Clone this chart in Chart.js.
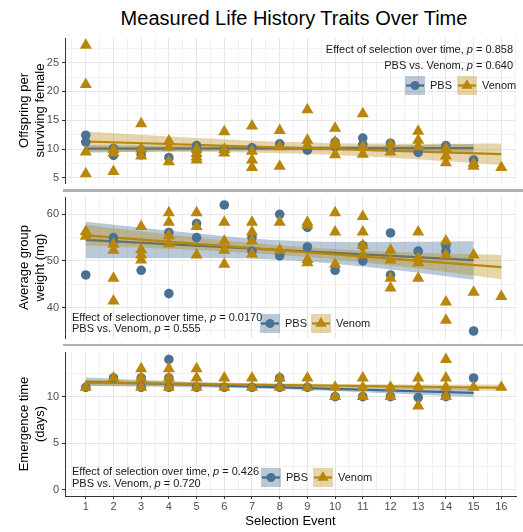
<!DOCTYPE html>
<html>
<head>
<meta charset="utf-8">
<script src="https://cdn.jsdelivr.net/npm/chart.js@4.4.1/dist/chart.umd.min.js"></script>
<style>
  html, body { margin: 0; padding: 0; background: #fff; overflow: hidden; }
  #wrap { position: relative; width: 523px; height: 532px; font-family: 'Liberation Sans', Arial, sans-serif; }
  canvas { position: absolute; left: 0; }
  .sep { position: absolute; left: 63px; width: 460px; height: 2.4px; background: #b0b0b0; z-index: 2; }
  #title { position: absolute; top: 7px; left: 65px; width: 458px; text-align: center; font-size: 20px; line-height: 22px; color: #000; }
</style>
</head>
<body>
<div id="wrap">
  <div id="title">Measured Life History Traits Over Time</div>
  <canvas id="offspring" width="523" height="190" style="top:0px"></canvas>
  <canvas id="weight" width="523" height="155" style="top:190px"></canvas>
  <canvas id="emergence" width="523" height="187" style="top:345px"></canvas>
  <div class="sep" style="top:189.4px"></div>
  <div class="sep" style="top:343.5px"></div>
</div>
<script>
// Measured life history traits, PBS vs Venom selection lines

// x axis: selection events
const events = [1, 2, 3, 4, 5, 6, 7, 8, 9, 10, 11, 12, 13, 14, 15, 16];

// Offspring per surviving female  [event, value]
const offspringPBS = [[1,12.4],[1,11.2],[2,10.1],[2,8.9],[3,9.8],[3,9.0],[4,8.5],[5,10.6],[5,9.6],[6,9.8],[7,10.2],[8,10.9],[9,9.8],[10,11.2],[10,10.4],[11,11.9],[11,10.8],[12,11.0],[12,10.0],[13,9.4],[14,10.6],[15,8.1]];
const offspringVenom = [[1,28],[1,21.2],[1,9.5],[1,5.7],[2,9.9],[2,9.3],[2,6.1],[3,14.4],[3,10.0],[3,8.8],[4,11.4],[4,10.3],[4,7.8],[5,10.0],[5,9.2],[5,8.6],[5,8.1],[6,13.0],[6,9.9],[6,9.3],[7,14.0],[7,9.6],[7,8.1],[7,6.8],[8,13.2],[8,10.4],[8,7.0],[9,16.8],[9,11.5],[9,10.6],[10,13.6],[10,11.2],[10,10.6],[10,9.0],[11,16.1],[11,10.4],[11,9.1],[12,10.8],[12,9.5],[13,13.1],[13,11.5],[13,10.4],[14,10.1],[14,8.8],[14,7.6],[15,7.5],[15,7.0],[16,6.8]];
// fitted lines [event, value] and bands [event, low, high]
const offspringPbsFit = [[1,10.05],[15,10.15]];
const offspringPbsBand = [[1,9.4,10.7],[4.5,9.63,10.53],[8,9.75,10.45],[11.5,9.67,10.57],[15,9.5,10.85]];
const offspringVenomFit = [[1,11.3],[16,9.1]];
const offspringVenomBand = [[1,9.55,13.05],[4.75,9.5,12.0],[8.5,9.2,11.2],[12.25,8.4,10.9],[16,7.25,10.95]];

// Average group weight (mg)
const weightPBS = [[1,47.0],[2,55.0],[2,54.2],[3,48.0],[4,56.1],[4,43.0],[5,58.0],[5,55.0],[6,62.0],[7,55.0],[7,52.1],[8,60.0],[8,51.1],[9,57.2],[9,53.0],[10,48.0],[11,53.3],[11,50.0],[12,56.0],[12,47.0],[13,52.1],[14,53.3],[14,52.1],[15,35.0]];
const weightVenom = [[1,56.3],[1,55.3],[2,53.6],[2,52.3],[2,46.3],[2,41.4],[3,57.4],[3,52.4],[3,51.3],[3,50.2],[4,60.3],[4,58.3],[4,55.4],[4,53.7],[5,60.3],[5,57.4],[5,51.3],[6,58.3],[6,54.3],[6,52.3],[6,49.3],[7,58.3],[7,56.2],[7,54.3],[7,51.5],[8,58.3],[8,52.3],[9,58.3],[9,57.7],[9,50.3],[9,49.6],[10,60.3],[10,56.2],[10,49.3],[11,59.5],[11,56.2],[11,53.3],[11,51.3],[12,52.3],[12,50.2],[12,46.3],[12,44.2],[13,56.2],[13,50.6],[13,49.6],[13,46.3],[14,54.3],[14,51.3],[14,41.2],[14,37.3],[15,51.3],[15,43.3],[16,42.4]];
const weightPbsFit = [[1,54.5],[15,50.2]];
const weightPbsBand = [[1,50.6,58.4],[4.5,50.63,56.23],[8,50.25,54.45],[11.5,48.48,54.08],[15,46.0,54.2]];
const weightVenomFit = [[1,55.5],[16,48.7]];
const weightVenomBand = [[1,53.3,57.7],[4.75,52.4,55.2],[8.5,51.05,53.15],[12.25,48.9,51.9],[16,46.1,51.3]];

// Emergence time (days)
const emergencePBS = [[1,11],[2,12],[3,12],[3,11],[4,14],[4,12],[4,11],[5,11],[6,11],[7,11],[8,12],[8,11],[9,11],[10,10],[11,10],[12,10],[13,9.9],[14,10],[15,12]];
const emergenceVenom = [[1,11],[2,12],[3,13],[3,12],[3,11],[4,13],[4,12],[4,11],[5,13],[5,12],[5,11],[6,12],[6,11],[7,12],[7,11],[8,12],[8,11],[9,12],[9,11],[10,11],[10,10],[11,12],[11,11],[11,10],[12,11],[12,10],[13,12],[13,11],[13,9],[14,14],[14,12],[14,11],[14,10],[15,11],[16,11]];
const emergencePbsFit = [[1,11.6],[15,10.4]];
const emergencePbsBand = [[1,11.15,12.05],[4.5,11.0,11.6],[8,10.78,11.22],[11.5,10.4,11.0],[15,9.95,10.85]];
const emergenceVenomFit = [[1,11.5],[16,10.95]];
const emergenceVenomBand = [[1,11.15,11.85],[4.75,11.14,11.58],[8.5,11.06,11.4],[12.25,10.87,11.31],[16,10.6,11.3]];

const PBS_COL = '#4a7295';
const PBS_LINE = '#3f6a8c';
const PBS_BAND = 'rgba(74,114,149,0.38)';
const VEN_COL = '#b8860b';
const VEN_LINE = '#b8860b';
const VEN_BAND = 'rgba(184,134,11,0.35)';
const FONT = "'Liberation Sans', Arial, sans-serif";

Chart.defaults.font.family = FONT;

const xMinor = events.map(e => e - 0.5).concat([16.5]);

function pts(arr) { return arr.map(p => ({ x: p[0], y: p[1] })); }

function panelDatasets(pbs, venom, pbsFit, pbsBand, venFit, venBand) {
    return [
        { type: 'line', data: pbsBand.map(b => ({ x: b[0], y: b[2] })), borderColor: 'transparent', borderWidth: 0, pointRadius: 0, tension: 0.4, fill: false, order: 8 },
        { type: 'line', data: pbsBand.map(b => ({ x: b[0], y: b[1] })), borderColor: 'transparent', borderWidth: 0, pointRadius: 0, tension: 0.4, fill: '-1', backgroundColor: PBS_BAND, order: 8 },
        { type: 'line', data: pts(pbsFit), borderColor: PBS_LINE, borderWidth: 2.2, pointRadius: 0, fill: false, order: 7 },
        { type: 'line', data: venBand.map(b => ({ x: b[0], y: b[2] })), borderColor: 'transparent', borderWidth: 0, pointRadius: 0, tension: 0.4, fill: false, order: 6 },
        { type: 'line', data: venBand.map(b => ({ x: b[0], y: b[1] })), borderColor: 'transparent', borderWidth: 0, pointRadius: 0, tension: 0.4, fill: '-1', backgroundColor: VEN_BAND, order: 6 },
        { type: 'line', data: pts(venFit), borderColor: VEN_LINE, borderWidth: 2.2, pointRadius: 0, fill: false, order: 5 },
        { label: 'PBS', data: pts(pbs), pointStyle: 'circle', pointRadius: 4.8, backgroundColor: PBS_COL, borderWidth: 0, order: 2 },
        { label: 'Venom', data: pts(venom), pointStyle: 'triangle', pointRadius: 7, backgroundColor: VEN_COL, borderWidth: 0, order: 1 }
    ];
}

function yScale(title, min, max, major, minor) {
    const all = major.concat(minor).sort((a, b) => a - b);
    return {
        type: 'linear', min: min, max: max,
        afterBuildTicks: s => { s.ticks = all.map(v => ({ value: v })); },
        afterFit: s => { s.width = 65; s.paddingTop = 0; s.paddingBottom = 0; },
        ticks: { autoSkip: false, color: '#4d4d4d', font: { size: 11 }, padding: 3,
            callback: v => major.includes(v) ? String(v) : '' },
        grid: {
            color: c => (c.tick && major.includes(c.tick.value)) ? '#e6e6e6' : '#f1f1f1',
            tickColor: c => (c.tick && major.includes(c.tick.value)) ? '#333' : 'rgba(0,0,0,0)',
            tickLength: 3
        },
        border: { display: true, color: '#333', width: 1 },
        title: { display: true, text: title, color: '#000', font: { size: 13, lineHeight: 1.25 }, padding: { top: 16, bottom: 0 } }
    };
}

function xScale(showLabels, height) {
    const all = events.concat(xMinor).sort((a, b) => a - b);
    return {
        type: 'linear', min: 0.25, max: 16.53,
        afterBuildTicks: s => { s.ticks = all.map(v => ({ value: v })); },
        afterFit: s => { s.height = height; s.paddingLeft = 0; s.paddingRight = 0; },
        ticks: { display: showLabels, autoSkip: false, maxRotation: 0, color: '#4d4d4d', font: { size: 11 }, padding: 1,
            callback: v => Number.isInteger(v) ? String(v) : '' },
        grid: {
            color: c => (c.tick && Number.isInteger(c.tick.value)) ? '#e6e6e6' : '#f1f1f1',
            tickColor: c => (c.tick && Number.isInteger(c.tick.value)) ? '#333' : 'rgba(0,0,0,0)',
            drawTicks: showLabels, tickLength: 3
        },
        border: { display: showLabels, color: '#333', width: 1 },
        title: { display: showLabels, text: 'Selection Event', color: '#000', font: { size: 13 }, padding: { top: 0, bottom: 3 } }
    };
}

// p-values text + legend keys drawn on the panel
function notesPlugin(cfg) {
    return {
        id: 'notes',
        afterDraw(chart) {
            const ctx = chart.ctx;
            const normal = '11px ' + FONT;
            const italic = 'italic 11px ' + FONT;
            ctx.save();
            ctx.textBaseline = 'middle';
            ctx.fillStyle = '#1a1a1a';
            cfg.lines.forEach((parts, i) => {
                const y = cfg.y + i * cfg.gap;
                ctx.font = normal;
                const w1 = ctx.measureText(parts[0]).width;
                const w3 = ctx.measureText(parts[1]).width;
                ctx.font = italic;
                const w2 = ctx.measureText('p').width;
                const x = cfg.align === 'right' ? cfg.x - (w1 + w2 + w3) : cfg.x;
                ctx.font = normal;
                ctx.fillText(parts[0], x, y);
                ctx.font = italic;
                ctx.fillText('p', x + w1, y);
                ctx.font = normal;
                ctx.fillText(parts[1], x + w1 + w2, y);
            });
            cfg.keys.forEach(k => {
                const cx = k.x + 10, cy = k.y + 9.5;
                ctx.fillStyle = k.band;
                ctx.fillRect(k.x, k.y, 20, 19);
                ctx.strokeStyle = k.line;
                ctx.lineWidth = 2.2;
                ctx.beginPath();
                ctx.moveTo(k.x + 1, cy);
                ctx.lineTo(k.x + 19, cy);
                ctx.stroke();
                ctx.fillStyle = k.color;
                ctx.beginPath();
                if (k.marker === 'circle') {
                    ctx.arc(cx, cy, 4.5, 0, Math.PI * 2);
                } else {
                    const r = 6.5;
                    ctx.moveTo(cx, cy - r);
                    ctx.lineTo(cx + r * 0.866, cy + r / 2);
                    ctx.lineTo(cx - r * 0.866, cy + r / 2);
                    ctx.closePath();
                }
                ctx.fill();
                ctx.fillStyle = '#1a1a1a';
                ctx.font = normal;
                ctx.fillText(k.label, k.x + 25, cy);
            });
            ctx.restore();
        }
    };
}

function legendKeys(x1, x2, y) {
    return [
        { x: x1, y: y, label: 'PBS', band: PBS_BAND, line: PBS_LINE, color: PBS_COL, marker: 'circle' },
        { x: x2, y: y, label: 'Venom', band: VEN_BAND, line: VEN_LINE, color: VEN_COL, marker: 'triangle' }
    ];
}

function makePanel(id, datasets, yOpts, xOpts, padTop, notes) {
    return new Chart(document.getElementById(id), {
        type: 'scatter',
        data: { datasets: datasets },
        options: {
            responsive: false,
            animation: false,
            layout: { padding: { top: padTop, left: 0, right: 0, bottom: 0 } },
            scales: { x: xOpts, y: yOpts },
            plugins: { legend: { display: false }, tooltip: { enabled: false }, title: { display: false } }
        },
        plugins: [notesPlugin(notes)]
    });
}

makePanel('offspring',
    panelDatasets(offspringPBS, offspringVenom, offspringPbsFit, offspringPbsBand, offspringVenomFit, offspringVenomBand),
    yScale(['Offspring per', 'surviving female'], 4.1, 29.27, [5, 10, 15, 20, 25], [7.5, 12.5, 17.5, 22.5, 27.5]),
    xScale(false, 2), 38,
    { align: 'right', x: 513, y: 50, gap: 15.7,
      lines: [['Effect of selection over time, ', ' = 0.858'], ['PBS vs. Venom, ', ' = 0.640']],
      keys: legendKeys(405, 457, 76) });

makePanel('weight',
    panelDatasets(weightPBS, weightVenom, weightPbsFit, weightPbsBand, weightVenomFit, weightVenomBand),
    yScale(['Average group', 'weight (mg)'], 33.5, 63.7, [40, 50, 60], [35, 45, 55]),
    xScale(false, 3), 4,
    { align: 'left', x: 72, y: 127.5, gap: 11.5,
      lines: [['Effect of selectionover time, ', ' = 0.0170'], ['PBS vs. Venom, ', ' = 0.555']],
      keys: legendKeys(260, 311, 124) });

makePanel('emergence',
    panelDatasets(emergencePBS, emergenceVenom, emergencePbsFit, emergencePbsBand, emergenceVenomFit, emergenceVenomBand),
    yScale(['Emergence time', '(days)'], -0.7, 14.8, [0, 5, 10], [2.5, 7.5, 12.5]),
    xScale(true, 36), 3.5,
    { align: 'left', x: 72, y: 127, gap: 12,
      lines: [['Effect of selection over time, ', ' = 0.426'], ['PBS vs. Venom, ', ' = 0.720']],
      keys: legendKeys(261, 313, 123) });
</script>
</body>
</html>
